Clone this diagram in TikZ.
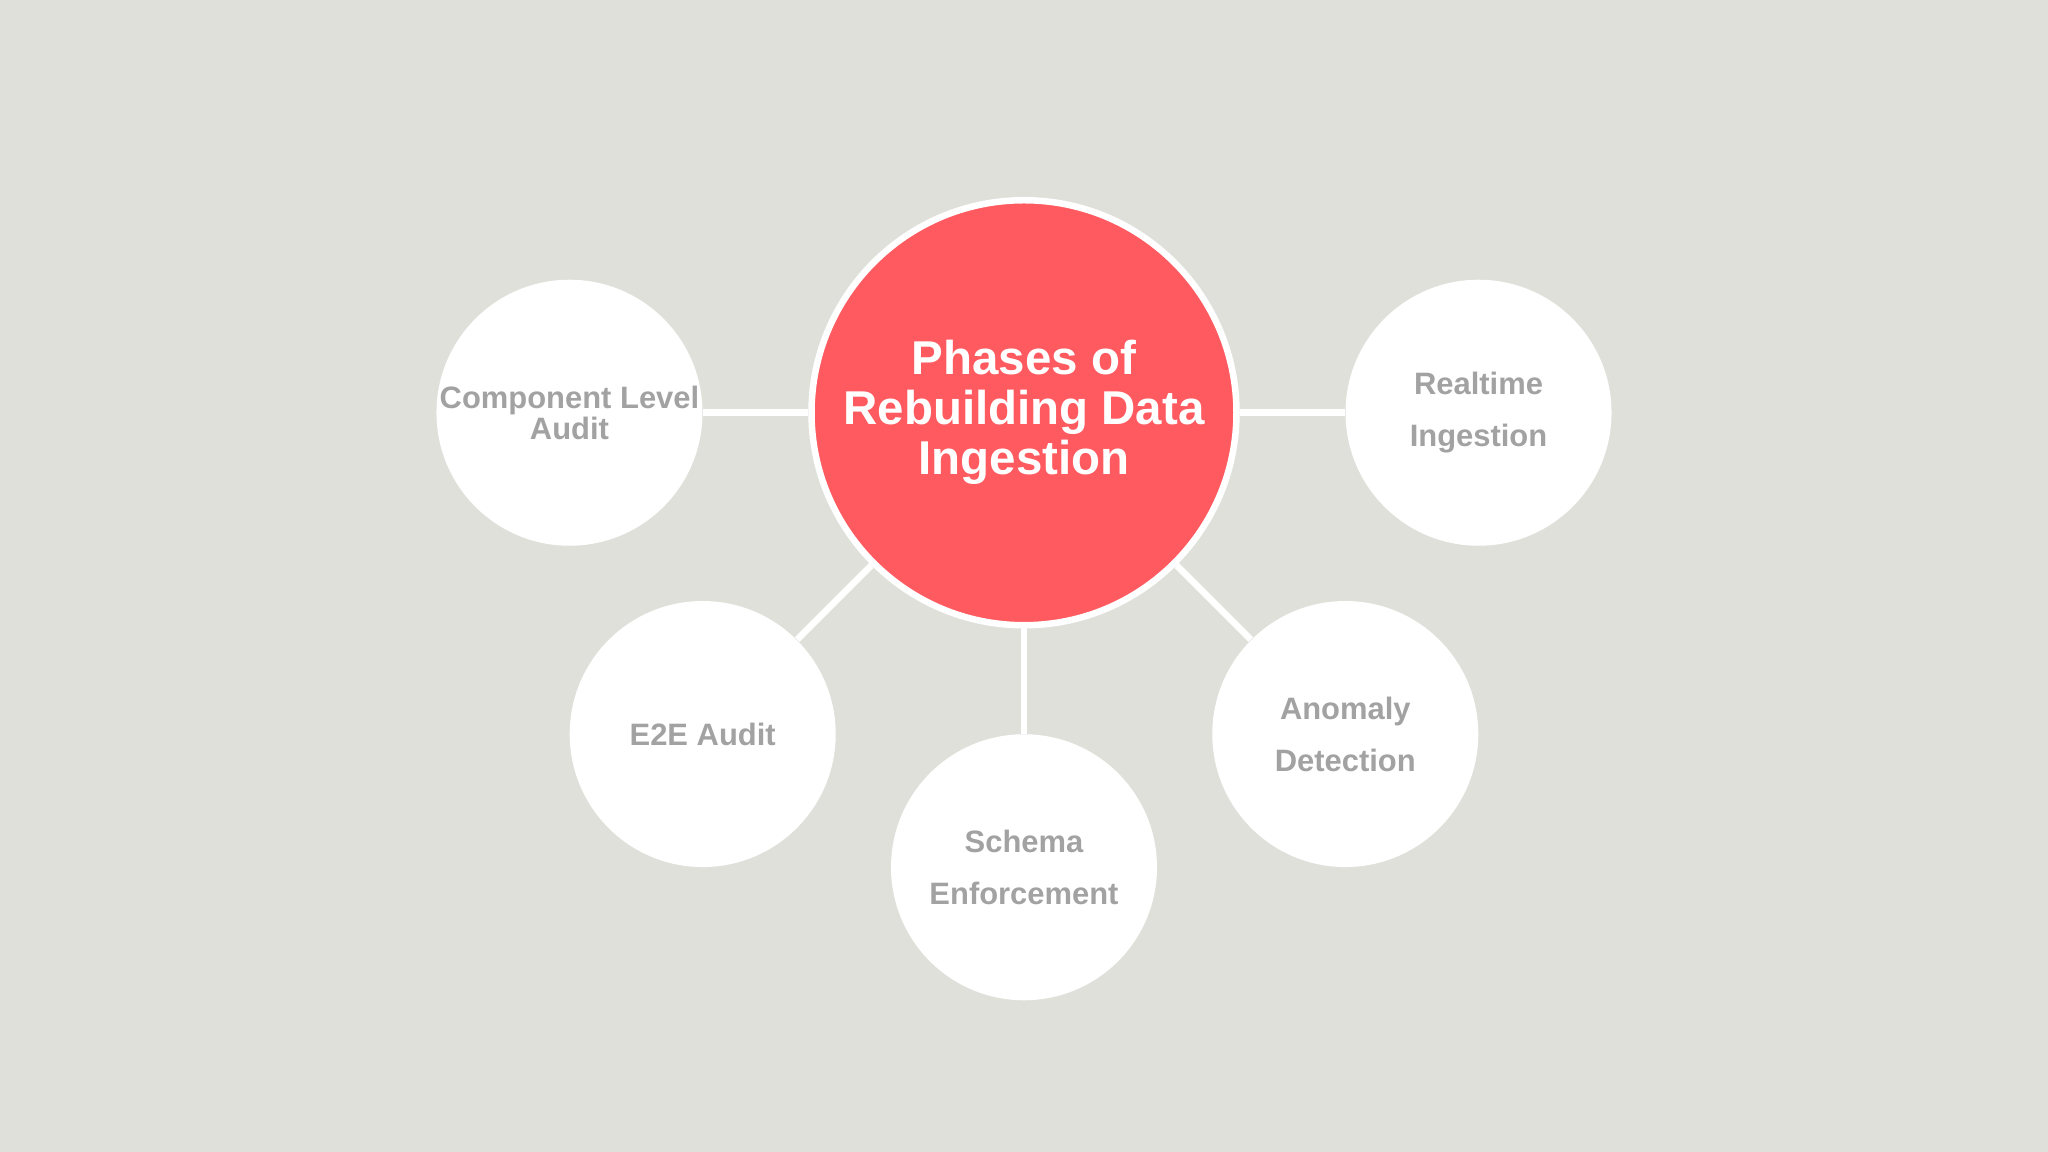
\documentclass[tikz,border=0pt]{standalone}
\usepackage{fontspec}
\setmainfont{Liberation Sans}
\begin{document}
\begin{tikzpicture}[x=0.01306cm,y=-0.01306cm,
  sat/.style={circle,fill=white,minimum size=2.66cm,inner sep=0pt,align=center,text=satgray,font=\fontsize{8.8}{14.8}\selectfont\bfseries},
  link/.style={white,line width=1.85pt}]
\definecolor{bg}{HTML}{E0E0DB}
\definecolor{satgray}{HTML}{A2A2A2}
\definecolor{cred}{HTML}{FF5A60}
\fill[bg] (0,0) rectangle (1568,882);
\useasboundingbox (0,0) rectangle (1568,882);
\node[circle,fill=cred,draw=white,line width=1.85pt,minimum size=4.25cm,inner sep=0pt,align=center,text=white,font=\fontsize{13.5}{14.2}\selectfont\bfseries] (c) at (784,316) {Phases of\\Rebuilding Data\\Ingestion};
\node[sat,font=\fontsize{8.8}{8.9}\selectfont\bfseries] (a) at (436,316) {Component Level\\Audit};
\node[sat] (b) at (1132,316) {Realtime\\Ingestion};
\node[sat] (e) at (538,562) {E2E Audit};
\node[sat] (s) at (784,664) {Schema\\Enforcement};
\node[sat] (d) at (1030,562) {Anomaly\\Detection};
\foreach \n in {a,b,e,s,d} \draw[link] (c) -- (\n);
\end{tikzpicture}
\end{document}
